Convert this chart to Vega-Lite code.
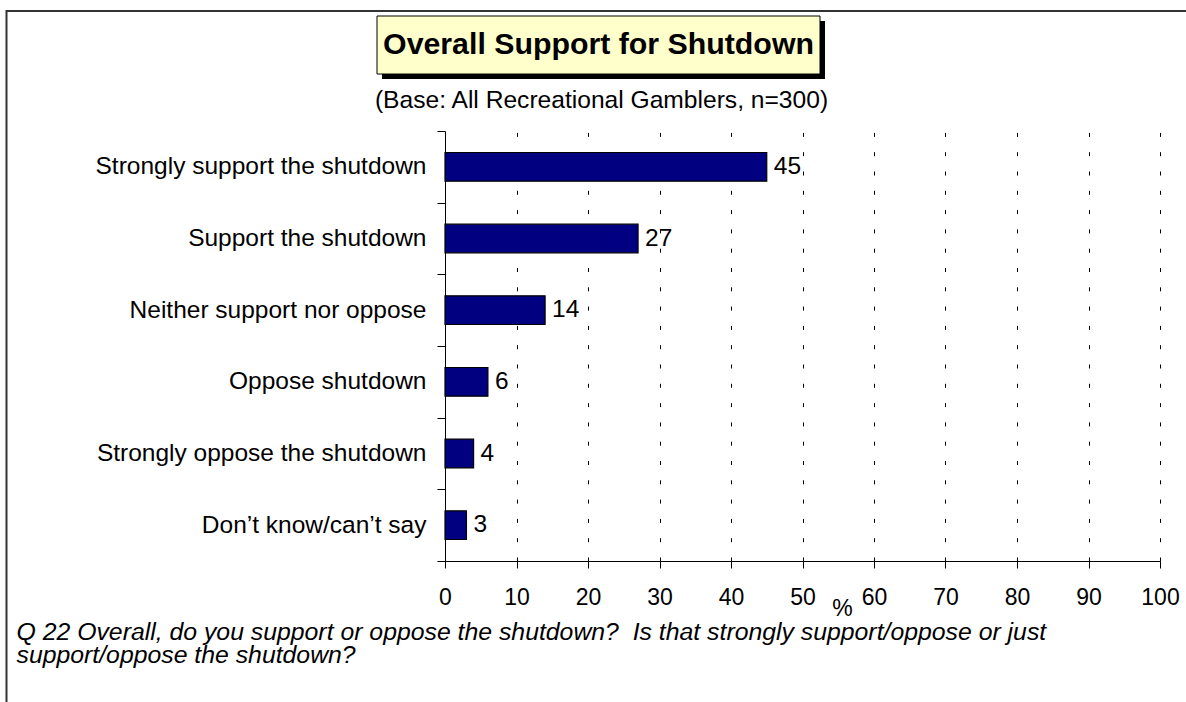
{
  "$schema": "https://vega.github.io/schema/vega-lite/v6.json",
  "background": "white",
  "padding": {"left": 2, "top": 7, "right": 0, "bottom": 0},
  "config": {
    "font": "Liberation Sans",
    "view": {"stroke": null}
  },
  "bounds": "flush",
  "spacing": 57,
  "title": {
    "text": ["Q 22 Overall, do you support or oppose the shutdown?\u00a0 Is that strongly support/oppose or just", "support/oppose the shutdown?"],
    "orient": "bottom",
    "anchor": "start",
    "frame": "bounds",
    "dx": 14,
    "offset": -87.5,
    "fontSize": 24.8,
    "lineHeight": 23,
    "fontStyle": "italic",
    "fontWeight": "normal",
    "color": "black",
    "baseline": "top"
  },
  "vconcat": [
    {
      "width": 443,
      "height": 58,
      "data": {"values": [{"t": "Overall Support for Shutdown"}]},
      "layer": [
        {"mark": {"type": "point", "shape": "M-660,658V-34H520", "size": 4, "filled": false, "stroke": "#333333", "strokeWidth": 2, "opacity": 1}, "encoding": {}},
        {"mark": {"type": "point", "shape": "M-284.5,-24H158.5V34H-284.5Z", "size": 4, "filled": true, "fill": "black", "opacity": 1, "strokeWidth": 0}, "encoding": {}},
        {"mark": {"type": "point", "shape": "M-289.5,-29H153.5V29H-289.5Z", "size": 4, "filled": true, "fill": "#FFFFCC", "stroke": "black", "strokeWidth": 1, "opacity": 1}, "encoding": {}},
        {"mark": {"type": "text", "fontWeight": "bold", "fontSize": 30.3, "dx": -68, "baseline": "middle", "color": "black"}, "encoding": {"text": {"field": "t"}}}
      ]
    },
    {
      "width": 715,
      "height": 430,
      "title": {
        "text": "(Base: All Recreational Gamblers, n=300)",
        "anchor": "middle",
        "frame": "group",
        "dx": -201,
        "offset": 4.5,
        "fontSize": 24.6,
        "fontWeight": "normal",
        "color": "black",
        "baseline": "top"
      },
      "data": {"values": [
        {"response": "Strongly support the shutdown", "pct": 45},
        {"response": "Support the shutdown", "pct": 27},
        {"response": "Neither support nor oppose", "pct": 14},
        {"response": "Oppose shutdown", "pct": 6},
        {"response": "Strongly oppose the shutdown", "pct": 4},
        {"response": "Don\u2019t know/can\u2019t say", "pct": 3}
      ]},
      "encoding": {
        "y": {
          "field": "response", "type": "nominal", "sort": null,
          "scale": {"paddingInner": 0, "paddingOuter": 0},
          "axis": {
            "title": null, "labelFontSize": 24.5, "labelColor": "black", "labelPadding": 11,
            "tickBand": "extent", "tickSize": 8, "tickColor": "black", "domainColor": "black",
            "grid": false, "labelLimit": 0
          }
        },
        "x": {
          "field": "pct", "type": "quantitative",
          "scale": {"domain": [0, 100], "nice": false},
          "axis": {
            "values": [0, 10, 20, 30, 40, 50, 60, 70, 80, 90, 100],
            "grid": true, "gridColor": "black", "gridDash": [4, 15.3], "gridWidth": 1,
            "tickSize": 7, "tickColor": "black", "domainColor": "black",
            "labelFontSize": 23, "labelColor": "black", "labelPadding": 18.5, "labelFlush": false,
            "title": "%", "titleFontSize": 23, "titleFontWeight": "normal", "titleColor": "black",
            "titleX": 397, "titleY": 36, "titleBaseline": "top"
          }
        }
      },
      "layer": [
        {"mark": {"type": "bar", "fill": "#000080", "stroke": "black", "strokeWidth": 1.2, "height": {"band": 0.4}}},
        {"mark": {"type": "text", "align": "left", "dx": 7, "fontSize": 24.5, "color": "black", "baseline": "middle"}, "encoding": {"text": {"field": "pct", "type": "quantitative"}}}
      ]
    }
  ]
}
